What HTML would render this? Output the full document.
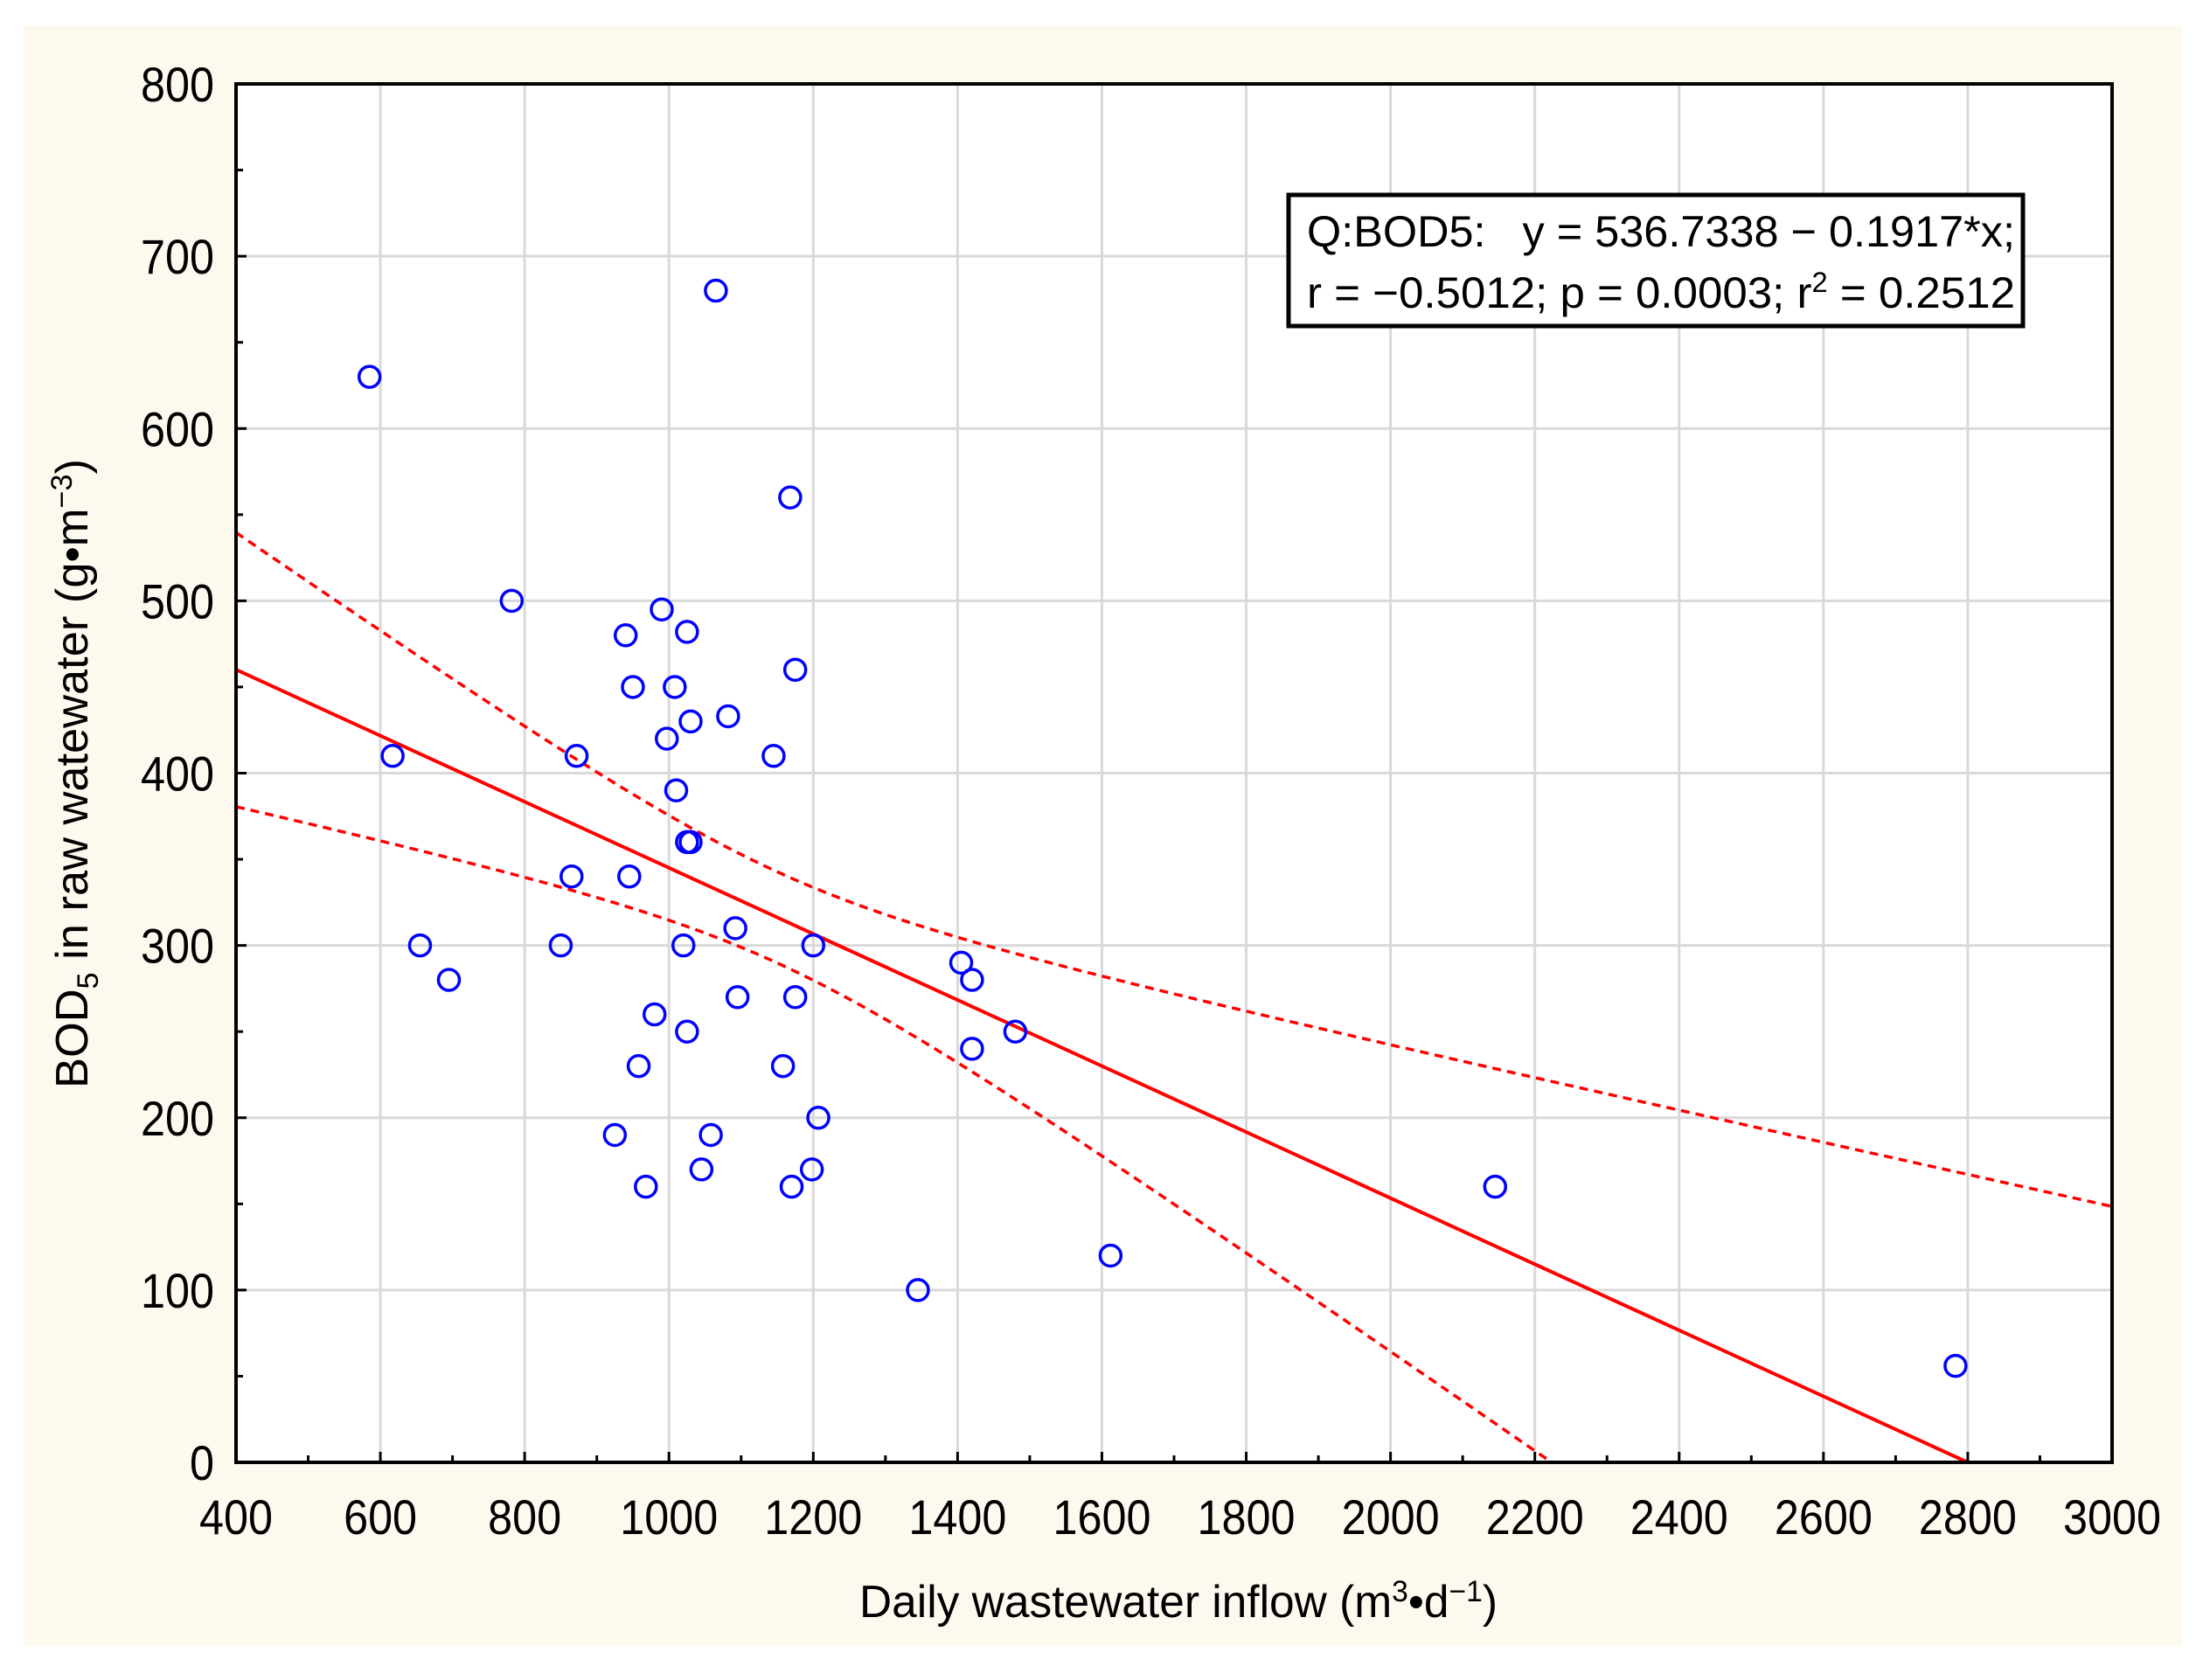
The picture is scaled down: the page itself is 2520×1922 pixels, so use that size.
<!DOCTYPE html>
<html><head><meta charset="utf-8"><style>
html,body{margin:0;padding:0;background:#fff;}
svg{display:block;font-family:"Liberation Sans",Arial,sans-serif;}
</style></head><body>
<svg id="chart" width="2520" height="1922" viewBox="0 0 2520 1922">
<rect x="27" y="29" width="2469" height="1854" fill="#fdf9ef"/>
<rect x="270" y="96" width="2146" height="1577" fill="#ffffff"/>
<g id="grid"></g>
<g id="bands"></g>
<g id="fit"></g>
<g id="points"></g>
<rect x="270" y="96" width="2146" height="1577" fill="none" stroke="#000" stroke-width="4"/>
<g id="ticks"></g>
<g>
<rect x="1474" y="223" width="840" height="150" fill="#fff" stroke="#000" stroke-width="5"/>
<text x="1495" y="282" font-size="50" textLength="810" lengthAdjust="spacingAndGlyphs" xml:space="preserve">Q:BOD5:&#160;&#160;&#160;y = 536.7338 − 0.1917*x;</text>
<text x="1495" y="352" font-size="50" textLength="810" lengthAdjust="spacingAndGlyphs">r = −0.5012; p = 0.0003; r<tspan dy="-18" font-size="32">2</tspan><tspan dy="18"> = 0.2512</tspan></text>
</g>
<text x="983" y="1850" font-size="52" textLength="730" lengthAdjust="spacingAndGlyphs">Daily wastewater inflow (m<tspan dy="-18" font-size="34">3</tspan><tspan dy="18">•d</tspan><tspan dy="-18" font-size="34">−1</tspan><tspan dy="18">)</tspan></text>
<text transform="translate(100,1245) rotate(-90)" font-size="52" textLength="720" lengthAdjust="spacingAndGlyphs">BOD<tspan dy="12" font-size="34">5</tspan><tspan dy="-12"> in raw watewater (g•m</tspan><tspan dy="-18" font-size="34">−3</tspan><tspan dy="18">)</tspan></text>
</svg>
<script>
const xTicks=[400,600,800,1000,1200,1400,1600,1800,2000,2200,2400,2600,2800,3000];
const yTicks=[0,100,200,300,400,500,600,700,800];
const ptX=[585,617,655,695,782,850,865,872,925,940,945,950,958,968,980,990,997,1008,1010,1020,1025,1025,1025,1030,1030,1045,1058,1065,1082,1092,1095,1145,1158,1168,1170,1175,1175,1198,1200,1207,1345,1405,1420,1420,1480,1612,2145,2783];
const ptY=[630,410,300,280,500,300,340,410,190,480,340,450,230,160,260,495,420,450,390,300,482,250,360,360,430,170,190,680,433,310,270,410,230,560,160,460,270,170,300,200,100,290,280,240,250,120,160,56];
const fitCoef=[536.7338,-0.1917];
const bandParams=[700,0.01,1150];
const NS='http://www.w3.org/2000/svg';
const L=270,R=2416,T=96,B=1673;
function sx(v){return L+(v-400)/(3000-400)*(R-L);}
function sy(v){return B-v/800*(B-T);}
function mk(tag,attrs,parent){const e=document.createElementNS(NS,tag);for(const k in attrs)e.setAttribute(k,attrs[k]);parent.appendChild(e);return e;}
const grid=document.getElementById('grid'),ticks=document.getElementById('ticks');
xTicks.forEach(v=>{
 const g=mk('line',{x1:sx(v),x2:sx(v),y1:T,y2:B,stroke:'#d9d9d9','stroke-width':3},grid);
 
 
 const s=String(v);
 const t=mk('text',{x:sx(v),y:1755,'font-size':56,'text-anchor':'middle',textLength:s.length*28,lengthAdjust:'spacingAndGlyphs'},ticks);t.textContent=s;
 
 
 const tk=mk('line',{x1:sx(v),x2:sx(v),y1:B,y2:B-12,stroke:'#000','stroke-width':3},ticks);
 
 
});
for(let v=500;v<3000;v+=200){const m=mk('line',{x1:sx(v),x2:sx(v),y1:B,y2:B-8,stroke:'#000','stroke-width':3},ticks);
 
 }
yTicks.forEach(v=>{
 const g=mk('line',{x1:L,x2:R,y1:sy(v),y2:sy(v),stroke:'#d9d9d9','stroke-width':3},grid);
 
 
 const s=String(v);
 const t=mk('text',{x:245-s.length*28,y:sy(v)+20,'font-size':56,textLength:s.length*28,lengthAdjust:'spacingAndGlyphs'},ticks);t.textContent=s;
 
 
 const tk=mk('line',{x1:L,x2:L+12,y1:sy(v),y2:sy(v),stroke:'#000','stroke-width':3},ticks);
 
 
});
for(let v=50;v<800;v+=100){const m=mk('line',{x1:L,x2:L+8,y1:sy(v),y2:sy(v),stroke:'#000','stroke-width':3},ticks);
 
 }
const f=x=>fitCoef[0]+fitCoef[1]*x;
const x0=400,x1=-fitCoef[0]/fitCoef[1];
const fl=mk('line',{x1:sx(x0),y1:sy(f(x0)),x2:sx(x1),y2:sy(0),stroke:'#ff0000','stroke-width':4},document.getElementById('fit'));


const bands=document.getElementById('bands');
const h=x=>Math.sqrt(bandParams[0]+bandParams[1]*(x-bandParams[2])**2);
let up=[],lo=[];
for(let x=400;x<=3000;x+=10){up.push(sx(x)+','+sy(f(x)+h(x)));const l=f(x)-h(x);if(l>=0)lo.push(sx(x)+','+sy(l));}
const u=mk('polyline',{points:up.join(' '),fill:'none',stroke:'#ff0000','stroke-width':3.5,'stroke-dasharray':'10,7'},bands);


const lw=mk('polyline',{points:lo.join(' '),fill:'none',stroke:'#ff0000','stroke-width':3.5,'stroke-dasharray':'10,7'},bands);


const pts=document.getElementById('points');
ptX.forEach((x,i)=>{const c=mk('circle',{cx:sx(x),cy:sy(ptY[i]),r:12,fill:'none',stroke:'#0000ff','stroke-width':3.5},pts);
 
 });
</script>
</body></html>
